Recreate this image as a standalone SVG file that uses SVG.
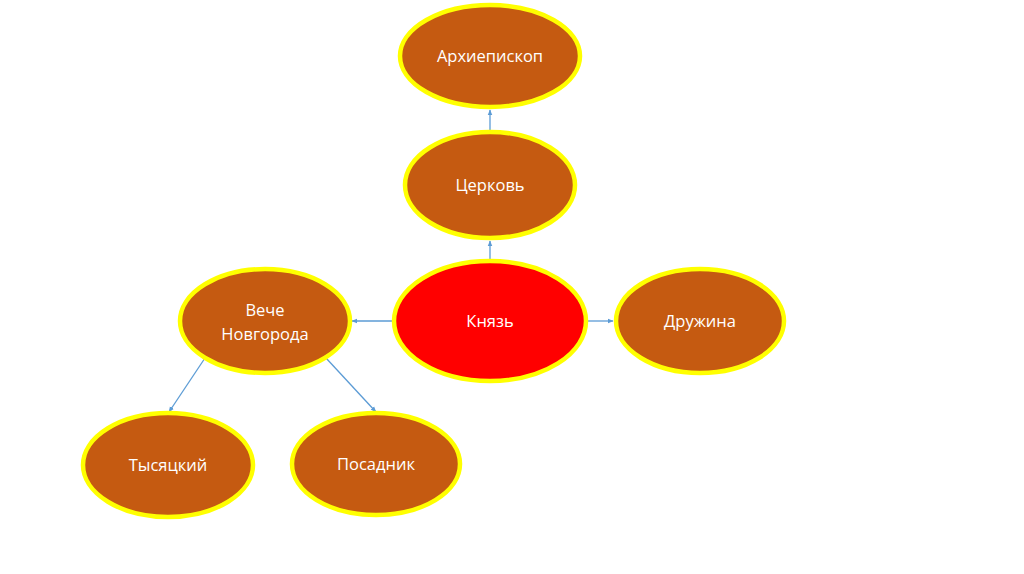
<svg xmlns="http://www.w3.org/2000/svg" width="1024" height="574" viewBox="0 0 1024 574">
<defs>
<style>
.n{fill:#C55A11;stroke:#FFFF00;stroke-width:4.5}
.r{fill:#FF0000;stroke:#FFFF00;stroke-width:4.5}
.t{font-family:"Open Sans","Liberation Sans",sans-serif;font-size:16.5px;fill:#FFFFFF;text-anchor:middle}
.c{stroke:#5B9BD5;stroke-width:1.3;fill:none;marker-end:url(#a)}
</style>
<marker id="a" viewBox="0 0 10 10" refX="9" refY="5" markerWidth="6" markerHeight="6" orient="auto" markerUnits="userSpaceOnUse">
<path d="M0,1 L10,5 L0,9 Z" fill="#5B9BD5"/>
</marker>
</defs>
<rect width="1024" height="574" fill="#FFFFFF"/>
<g id="connectors">
<line class="c" x1="490" y1="131" x2="490" y2="110"/>
<line class="c" x1="490" y1="260" x2="490" y2="241"/>
<line class="c" x1="392" y1="321" x2="352" y2="321"/>
<line class="c" x1="587" y1="321" x2="613" y2="321"/>
<line class="c" x1="205" y1="358" x2="169" y2="412"/>
<line class="c" x1="326" y1="358" x2="376" y2="412"/>
</g>
<g id="arkhiepiskop">
<ellipse class="n" cx="490" cy="56" rx="90" ry="51"/>
<text class="t" x="490" y="62">Архиепископ</text>
</g>
<g id="tserkov">
<ellipse class="n" cx="490" cy="185" rx="85" ry="53"/>
<text class="t" x="490" y="191">Церковь</text>
</g>
<g id="knyaz">
<ellipse class="r" cx="490" cy="321" rx="96" ry="60"/>
<text class="t" x="490" y="327">Князь</text>
</g>
<g id="veche">
<ellipse class="n" cx="265" cy="321" rx="85" ry="52"/>
<text class="t" x="265" y="316">Вече</text>
<text class="t" x="265" y="340">Новгорода</text>
</g>
<g id="druzhina">
<ellipse class="n" cx="700" cy="321" rx="84" ry="52"/>
<text class="t" x="700" y="327">Дружина</text>
</g>
<g id="tysyatsky">
<ellipse class="n" cx="168" cy="465" rx="85" ry="52"/>
<text class="t" x="168" y="471">Тысяцкий</text>
</g>
<g id="posadnik">
<ellipse class="n" cx="376" cy="464" rx="84" ry="51"/>
<text class="t" x="376" y="470">Посадник</text>
</g>
</svg>
